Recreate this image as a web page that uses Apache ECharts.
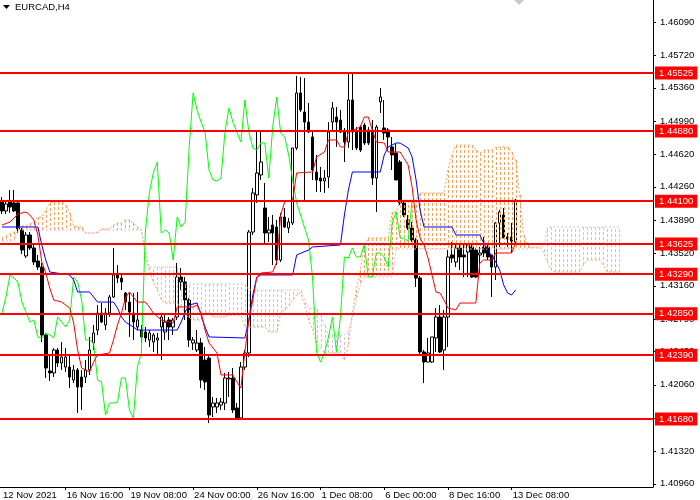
<!DOCTYPE html>
<html><head><meta charset="utf-8">
<script src="https://cdn.jsdelivr.net/npm/echarts@6/dist/echarts.min.js"></script>
<style>html,body{margin:0;padding:0;background:#fff}#c{width:700px;height:500px}</style>
</head><body><div id="c"></div>
<script>
const xLabels = ["12 Nov 2021","16 Nov 16:00","19 Nov 08:00","24 Nov 00:00","26 Nov 16:00","1 Dec 08:00","6 Dec 00:00","8 Dec 16:00","13 Dec 08:00"];
const yTicks = [1.40960,1.41320,1.41690,1.42060,1.42430,1.42790,1.43160,1.43520,1.43890,1.44260,1.44620,1.44990,1.45360,1.45720,1.46090];
const levels = [1.45525,1.44880,1.44100,1.43625,1.43290,1.42850,1.42390,1.41680];

const opens = [
1.44103,1.43992,1.44092,1.44081,1.44081,1.43781,1.43492,1.43725,1.43581,1.43436,
1.43369,1.42614,1.42214,1.42192,1.42447,1.42303,1.42258,1.42258,1.42114,1.42225,
1.42147,1.42147,1.42225,1.42525,1.42669,1.42858,1.42725,1.42858,1.43036,1.43281,
1.43247,1.43080,1.42980,1.42858,1.42703,1.42669,1.42647,1.42558,1.42536,1.42558,
1.42703,1.42647,1.42781,1.42703,1.42814,1.43258,1.43203,1.43003,1.42525,1.42447,
1.42525,1.42336,1.42358,1.41814,1.41814,1.41836,1.41858,1.42125,1.42136,1.41803,
1.41692,1.42258,1.42414,1.43758,1.44170,1.44392,1.44025,1.43747,1.43836,1.43814,
1.43447,1.43925,1.43803,1.43858,1.44692,1.45303,1.45092,1.44980,1.44814,1.44425,
1.44358,1.44325,1.44369,1.44980,1.45036,1.45003,1.44869,1.44758,1.45225,1.44869,
1.44925,1.44947,1.44892,1.44869,1.44358,1.45203,1.44914,1.44892,1.44703,1.44636,
1.44536,1.44081,1.43892,1.43803,1.43669,1.43247,1.42425,1.42314,1.42314,1.42581,
1.42814,1.42447,1.42814,1.43503,1.43425,1.43581,1.43503,1.43536,1.43592,1.43558,
1.43503,1.43592,1.43592,1.43503,1.43369,1.43858,1.43947,1.43703,1.43703,1.43647];
const highs = [
1.44147,1.44092,1.44225,1.44225,1.44114,1.43803,1.43758,1.43758,1.43636,1.43503,
1.43414,1.42636,1.42392,1.42469,1.42469,1.42536,1.42469,1.42392,1.42281,1.42247,
1.42225,1.42336,1.42592,1.42725,1.42947,1.42969,1.42914,1.43058,1.43581,1.43392,
1.43281,1.43092,1.43080,1.43080,1.43092,1.42725,1.42703,1.42669,1.42636,1.42636,
1.42858,1.42836,1.42814,1.42803,1.43414,1.43358,1.43258,1.43025,1.42592,1.42669,
1.42581,1.42481,1.42392,1.41925,1.41914,1.41914,1.42192,1.42203,1.42247,1.41858,
1.42314,1.42447,1.43781,1.44247,1.44869,1.44892,1.44303,1.43925,1.43947,1.43892,
1.43970,1.44025,1.43914,1.44692,1.45492,1.45481,1.45469,1.45192,1.44869,1.44614,
1.44481,1.44447,1.44980,1.45203,1.45147,1.45114,1.44914,1.45525,1.45525,1.44925,
1.44947,1.44969,1.44925,1.45003,1.44947,1.45358,1.45225,1.44914,1.44814,1.44747,
1.44558,1.44114,1.43947,1.43869,1.43692,1.43269,1.42447,1.42581,1.42592,1.42914,
1.42947,1.42892,1.43558,1.43647,1.43636,1.43636,1.43636,1.43636,1.43636,1.43581,
1.43592,1.43703,1.43636,1.43503,1.43869,1.44003,1.44025,1.43747,1.43858,1.44125];
const lows = [
1.43958,1.43958,1.43970,1.43981,1.43747,1.43514,1.43469,1.43558,1.43392,1.43336,
1.42536,1.42136,1.42103,1.42147,1.42258,1.42225,1.42203,1.42025,1.42080,1.41747,
1.41781,1.42080,1.42170,1.42447,1.42614,1.42747,1.42669,1.42814,1.43025,1.43192,
1.43114,1.42892,1.42592,1.42558,1.42669,1.42525,1.42536,1.42481,1.42425,1.42392,
1.42336,1.42558,1.42558,1.42614,1.42781,1.43114,1.42781,1.42481,1.42447,1.42425,
1.42025,1.42003,1.41636,1.41703,1.41747,1.41781,1.41781,1.41925,1.41747,1.41669,
1.41669,1.42225,1.42369,1.43725,1.44081,1.44336,1.43636,1.43647,1.43392,1.43392,
1.43425,1.43803,1.43747,1.43836,1.44669,1.45092,1.44092,1.44858,1.44336,1.44203,
1.44203,1.44192,1.44247,1.44892,1.44703,1.44858,1.44536,1.44692,1.44669,1.44669,
1.44647,1.44725,1.44725,1.44281,1.43981,1.45080,1.44781,1.44669,1.44447,1.44336,
1.44058,1.43925,1.43781,1.43647,1.43147,1.42392,1.42080,1.42314,1.42303,1.42425,
1.42414,1.42225,1.42481,1.43414,1.43369,1.43336,1.43258,1.43258,1.43247,1.43247,
1.43281,1.43481,1.43447,1.43036,1.43225,1.43592,1.43692,1.43592,1.43525,1.43636];
const closes = [
1.43992,1.44070,1.44036,1.43992,1.43792,1.43558,1.43725,1.43581,1.43425,1.43369,
1.42614,1.42247,1.42192,1.42447,1.42303,1.42369,1.42369,1.42147,1.42225,1.42036,
1.42036,1.42225,1.42447,1.42636,1.42858,1.42758,1.42858,1.43036,1.43281,1.43247,
1.43203,1.42980,1.42869,1.42758,1.42781,1.42592,1.42581,1.42636,1.42614,1.42581,
1.42814,1.42758,1.42703,1.42781,1.43258,1.43203,1.43003,1.42558,1.42558,1.42525,
1.42114,1.42092,1.41725,1.41858,1.41858,1.41869,1.42136,1.42136,1.41781,1.41692,
1.42258,1.42414,1.43758,1.44192,1.44414,1.44536,1.43747,1.43781,1.43747,1.43447,
1.43925,1.43814,1.43869,1.44692,1.45303,1.45114,1.44980,1.44869,1.44447,1.44336,
1.44325,1.44358,1.44869,1.45136,1.44980,1.44869,1.44758,1.45225,1.44869,1.44692,
1.44669,1.44747,1.44747,1.44358,1.44925,1.45258,1.44858,1.44814,1.44614,1.44336,
1.44081,1.43947,1.43803,1.43669,1.43247,1.42425,1.42314,1.42414,1.42592,1.42814,
1.42425,1.42814,1.43481,1.43469,1.43581,1.43481,1.43481,1.43614,1.43258,1.43258,
1.43525,1.43525,1.43481,1.43369,1.43858,1.43981,1.43692,1.43681,1.43658,1.44114];

// Tenkan-sen vertices (bar index, price)
const tenkanBars = [0,2,4,6,7,8,9,10,11,12,13,15,17,18,19,20,21,22,23,24,27,28,29,30,31,32,33,34,36,37,38,40,43,44,48,49,50,51,52,54,55,58,59,60,61,62,63,64,65,68,69,70,71,73,74,78,79,81,82,84,85,86,87,90,91,92,93,94,96,97,100,102,103,104,105,106,107,108,109,110,111,112,114,115,119,120,121,123,124,128,129];
const tenkanVals = [1.43836,1.43869,1.43958,1.43981,1.43947,1.43892,1.43725,1.43425,1.43303,1.43136,1.43003,1.42980,1.42914,1.42747,1.42447,1.42247,1.42225,1.42203,1.42314,1.42392,1.42414,1.42558,1.42725,1.42858,1.43025,1.43092,1.43036,1.42980,1.42980,1.42925,1.42858,1.42781,1.42747,1.42925,1.42925,1.42947,1.42858,1.42669,1.42525,1.42414,1.42170,1.42170,1.42092,1.42025,1.42425,1.42781,1.43003,1.43258,1.43303,1.43314,1.43425,1.43947,1.44092,1.44114,1.44414,1.44425,1.44592,1.44647,1.44781,1.44781,1.44703,1.44703,1.44869,1.44925,1.45036,1.45036,1.44892,1.44758,1.44747,1.44647,1.44647,1.44503,1.44258,1.43892,1.43692,1.43614,1.43469,1.43281,1.43092,1.43080,1.43003,1.42914,1.42892,1.42969,1.42969,1.43414,1.43447,1.43447,1.43525,1.43525,1.43636];
// Kijun-sen vertices (bar index, price)
const kijunBars = [0,9,10,11,12,17,18,19,22,23,24,28,29,30,31,33,34,44,45,46,47,49,50,51,52,61,62,63,64,65,73,74,77,78,85,86,87,88,95,96,97,99,100,102,103,104,105,106,113,114,120,121,122,123,124,125,126,127,128,129];
const kijunVals = [1.43814,1.43814,1.43614,1.43447,1.43314,1.43281,1.43225,1.43092,1.43092,1.43036,1.42980,1.42980,1.42914,1.42814,1.42758,1.42703,1.42669,1.42669,1.42758,1.42869,1.42947,1.42969,1.42836,1.42703,1.42592,1.42581,1.42781,1.43058,1.43258,1.43281,1.43281,1.43503,1.43558,1.43592,1.43614,1.43947,1.44225,1.44425,1.44425,1.44614,1.44703,1.44747,1.44747,1.44692,1.44592,1.44336,1.44003,1.43814,1.43814,1.43725,1.43725,1.43636,1.43558,1.43492,1.43425,1.43336,1.43170,1.43080,1.43058,1.43114];

// Senkou Span A / B per bar (cloud drawn 26 bars ahead)
const spanA = [
1.43692,1.43714,1.43736,1.43758,1.43803,1.43825,1.43825,1.43847,1.43869,1.43925,
1.43925,1.44003,1.44081,1.44092,1.44092,1.44092,1.44058,1.43970,1.43825,1.43814,
1.43814,1.43747,1.43747,1.43747,1.43758,1.43792,1.43792,1.43792,1.43836,1.43858,
1.43858,1.43892,1.43892,1.43858,1.43814,1.43781,1.43503,1.43336,1.43203,1.43114,
1.43003,1.42969,1.42969,1.42969,1.42969,1.42925,1.42858,1.42803,1.42781,1.42781,
1.42781,1.42869,1.42869,1.42814,1.42814,1.42814,1.42814,1.42836,1.42836,1.42836,
1.42836,1.42703,1.42703,1.42703,1.42703,1.42703,1.42703,1.42647,1.42647,1.42647,
1.42858,1.42892,1.42936,1.43003,1.43058,1.43080,1.42947,1.42781,1.42669,1.42525,
1.42481,1.42414,1.42414,1.42414,1.42414,1.42414,1.42336,1.42503,1.42858,1.43114,
1.43336,1.43614,1.43692,1.43692,1.43692,1.43692,1.43692,1.43692,1.43981,1.43981,
1.44114,1.44114,1.44114,1.44114,1.44114,1.44192,1.44192,1.44192,1.44192,1.44192,
1.44192,1.44192,1.44447,1.44614,1.44725,1.44725,1.44725,1.44725,1.44725,1.44669,
1.44636,1.44669,1.44669,1.44669,1.44703,1.44703,1.44703,1.44703,1.44647,1.44558,
1.44170,1.43725,1.43614,1.43581,1.43581,1.43581,1.43536,1.43425,1.43336,1.43314,
1.43314,1.43314,1.43314,1.43314,1.43314,1.43314,1.43392,1.43447,1.43447,1.43447,
1.43447,1.43392,1.43314,1.43314,1.43314,1.43314];
const spanB = [
1.43658,1.43658,1.43658,1.43658,1.43781,1.43781,1.43781,1.43781,1.43781,1.43781,
1.43781,1.43781,1.43781,1.43781,1.43781,1.43781,1.43781,1.43781,1.43781,1.43781,
1.43781,1.43747,1.43747,1.43747,1.43747,1.43781,1.43781,1.43781,1.43781,1.43781,
1.43781,1.43781,1.43781,1.43781,1.43781,1.43781,1.43558,1.43369,1.43369,1.43369,
1.43369,1.43369,1.43369,1.43369,1.43369,1.43181,1.43181,1.43181,1.43181,1.43181,
1.43181,1.43181,1.43181,1.43181,1.43181,1.43181,1.43181,1.43181,1.43181,1.43181,
1.43181,1.43181,1.43114,1.43114,1.43114,1.43114,1.43114,1.43114,1.43114,1.43114,
1.43114,1.43114,1.43114,1.43114,1.43114,1.43114,1.43003,1.42914,1.42914,1.42914,
1.42836,1.42725,1.42614,1.42614,1.42614,1.42614,1.42614,1.42669,1.42803,1.43003,
1.43170,1.43258,1.43258,1.43258,1.43258,1.43258,1.43258,1.43258,1.43258,1.43569,
1.43569,1.43569,1.43569,1.43569,1.43569,1.43569,1.43569,1.43569,1.43569,1.43569,
1.43569,1.43569,1.43569,1.43569,1.43569,1.43569,1.43569,1.43569,1.43569,1.43569,
1.43569,1.43569,1.43569,1.43569,1.43569,1.43569,1.43569,1.43569,1.43569,1.43569,
1.43569,1.43569,1.43569,1.43592,1.43592,1.43592,1.43592,1.43814,1.43814,1.43814,
1.43814,1.43814,1.43814,1.43814,1.43814,1.43814,1.43814,1.43814,1.43814,1.43814,
1.43814,1.43814,1.43814,1.43814,1.43814,1.43814];
const chikouShift = 26;

const FONT = 'Liberation Sans';
const N = 164;
const cats = Array.from({length: N}, (_, i) => String(i));
const candleData = opens.map((o, i) => [o, closes[i], lows[i], highs[i]]);
const pairs = (bars, vals) => bars.map((b, i) => [b, vals[i]]);
const chikou = closes.slice(chikouShift).map((v, i) => [i, v]);
const cloud = spanA.map((a, i) => [i, a, spanB[i]]);
const showX = (idx) => idx % 16 === 0 && idx / 16 < xLabels.length;
const lastClose = closes[closes.length - 1];

const chart = echarts.init(document.getElementById('c'), null, {renderer: 'canvas'});
chart.setOption({
  animation: false,
  backgroundColor: '#ffffff',
  textStyle: {fontFamily: FONT},
  grid: {left: -2, right: 47, top: 0, bottom: 13, containLabel: false},
  graphic: [
    {type: 'polygon', shape: {points: [[3, 5], [10, 5], [6.5, 9]]}, style: {fill: '#000'}},
    {type: 'text', left: 15, top: 2, style: {text: 'EURCAD,H4', fontSize: 9.5, fontFamily: FONT, fill: '#000'}},
    {type: 'polygon', shape: {points: [[514, 0], [524, 0], [519, 5]]}, style: {fill: '#c8c8c8'}}
  ],
  xAxis: {
    type: 'category', data: cats, boundaryGap: true,
    axisLine: {show: true, lineStyle: {color: '#000', width: 1}},
    axisTick: {show: true, alignWithLabel: true, length: 3, interval: (i) => showX(i) && i > 0, lineStyle: {color: '#000'}},
    axisLabel: {
      show: true, interval: (i) => showX(i), align: 'left', margin: 3, padding: [0, 0, 0, 1],
      fontSize: 9.5, fontFamily: FONT, color: '#000',
      formatter: (v, i) => (i % 16 === 0 ? (xLabels[i / 16] || '') : '')
    },
    splitLine: {show: false}
  },
  yAxis: {
    type: 'value', position: 'right', min: 1.40925, max: 1.46336, scale: true,
    axisLine: {show: true, onZero: false, lineStyle: {color: '#000', width: 1}},
    axisTick: {show: true, length: 3, customValues: yTicks, lineStyle: {color: '#000'}},
    axisLabel: {show: true, customValues: yTicks, margin: 7, fontSize: 9.5, fontFamily: FONT, color: '#000',
      formatter: (v) => Number(v).toFixed(5)},
    splitLine: {show: false}
  },
  series: [
    {
      type: 'candlestick', name: 'EURCAD', data: candleData, z: 2, barWidth: 3,
      itemStyle: {color: '#ffffff', color0: '#000000', borderColor: '#000000', borderColor0: '#000000', borderWidth: 1},
      emphasis: {disabled: true}
    },
    {
      type: 'custom', name: 'Kumo', z: 3, silent: true, data: cloud,
      encode: {x: 0, y: [1, 2]},
      renderItem: (params, api) => {
        const i = api.value(0), a = api.value(1), b = api.value(2);
        const p1 = api.coord([i, a]), p2 = api.coord([i, b]);
        const x = Math.round(p1[0]) + 0.5;
        return {type: 'line', shape: {x1: x, y1: p1[1], x2: x, y2: p2[1]},
          style: {stroke: a >= b ? '#F4A460' : '#D8BFD8', lineWidth: 1, lineDash: [3, 2]}};
      }
    },
    {type: 'line', name: 'Span A', data: spanA.map((v, i) => [i, v]), z: 3, showSymbol: false, silent: true,
      lineStyle: {color: '#F4A460', width: 1, type: [2, 2]}},
    {type: 'line', name: 'Span B', data: spanB.map((v, i) => [i, v]), z: 3, showSymbol: false, silent: true,
      lineStyle: {color: '#D8BFD8', width: 1, type: [2, 2]}},
    {type: 'line', name: 'Chikou', data: chikou, z: 4, showSymbol: false, silent: true,
      lineStyle: {color: '#00FF00', width: 1}},
    {type: 'line', name: 'Kijun', data: pairs(kijunBars, kijunVals), z: 4, showSymbol: false, silent: true,
      lineStyle: {color: '#0000FF', width: 1}},
    {type: 'line', name: 'Tenkan', data: pairs(tenkanBars, tenkanVals), z: 4, showSymbol: false, silent: true,
      lineStyle: {color: '#FF0000', width: 1}},
    {
      type: 'line', name: 'Levels', data: [], z: 6, silent: true,
      markLine: {
        symbol: 'none', silent: true, animation: false, precision: 5,
        emphasis: {disabled: true},
        data: [{yAxis: lastClose, lineStyle: {color: '#c0c0c0', width: 1, type: 'solid'}, label: {show: false}}]
          .concat(levels.map((v) => ({yAxis: v}))),
        lineStyle: {color: '#ff0000', width: 2, type: 'solid'},
        label: {show: true, position: 'end', distance: 2, formatter: (p) => Number(p.value).toFixed(5),
          color: '#ffffff', backgroundColor: '#ff0000', padding: [2, 4, 1, 4], fontSize: 9.5, fontFamily: FONT}
      }
    }
  ]
});
</script>
</body></html>
